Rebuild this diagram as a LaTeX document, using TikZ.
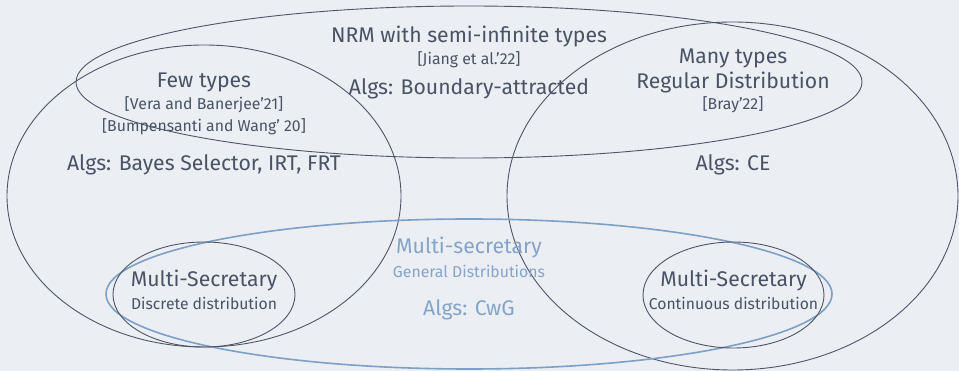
\documentclass[tikz,border=0pt]{standalone}
\usepackage{fontspec}
\setmainfont{Fira Sans}
\usetikzlibrary{shapes.geometric}
\definecolor{bgc}{HTML}{EBEEF3}
\definecolor{ink}{HTML}{4A5266}
\definecolor{setline}{HTML}{4E5566}
\definecolor{bluel}{HTML}{7CA0C6}
\definecolor{bluet}{HTML}{84A5C9}
\tikzset{
  setring/.style={draw=setline, line width=0.9pt},
  bluering/.style={draw=bluel, line width=1.6pt},
  big/.style={text=ink, font=\fontsize{21.2}{24}\selectfont, inner sep=0pt},
  cite/.style={text=ink, font=\fontsize{15.8}{18}\selectfont, inner sep=0pt},
  sub/.style={text=ink, font=\fontsize{15.7}{18}\selectfont, inner sep=0pt},
  bigb/.style={big, text=bluet},
  citeb/.style={cite, text=bluet},
}
\begin{document}
\begin{tikzpicture}[x=1pt, y=-1pt]
  \fill[bgc] (0,0) rectangle (959,371);
  \useasboundingbox (0,0) rectangle (959,371);

  % outlines of the sets
  \draw[setring] (469,82) ellipse [x radius=393pt, y radius=76pt];
  \draw[setring] (204,196) ellipse [x radius=197pt, y radius=151pt];
  \draw[setring] (732.5,196) ellipse [x radius=225.5pt, y radius=174pt];
  \draw[bluering] (469,294) ellipse [x radius=363pt, y radius=75pt];
  \draw[setring] (204,294.5) ellipse [x radius=91pt, y radius=52.5pt];
  \draw[setring] (733.5,295) ellipse [x radius=90.5pt, y radius=53pt];

  % semi-infinite types
  \node[big]  (nrm)    at (469,36) {NRM with semi-infinite types};
  \node[cite] (jiang)  at (469,60) {[Jiang et al.’22]};
  \node[big]  (nrmalg) at (469,89) {Algs: Boundary-attracted};

  % few types
  \node[big]  (few)    at (204,82)  {Few types};
  \node[cite] (vera)   at (204,105) {[Vera and Banerjee’21]};
  \node[cite] (bump)   at (204,127) {[Bumpensanti and Wang’ 20]};
  \node[big]  (fewalg) at (204,165) {Algs: Bayes Selector, IRT, FRT};

  % many types
  \node[big]  (many)    at (733,58)  {Many types};
  \node[big]  (regular) at (733,82)  {Regular Distribution};
  \node[cite] (bray)    at (733,105) {[Bray’22]};
  \node[big]  (manyalg) at (733,165) {Algs: CE};

  % general multi-secretary
  \node[bigb]  (ms)    at (469,247) {Multi-secretary};
  \node[citeb] (gen)   at (469,271) {General Distributions};
  \node[bigb]  (msalg) at (469,310) {Algs: CwG};

  % discrete and continuous cases
  \node[big] (msd)  at (204,280) {Multi-Secretary};
  \node[sub] (disc) at (204,303) {Discrete distribution};
  \node[big] (msc)  at (733.5,280) {Multi-Secretary};
  \node[sub] (cont) at (733.5,303) {Continuous distribution};
\end{tikzpicture}
\end{document}
